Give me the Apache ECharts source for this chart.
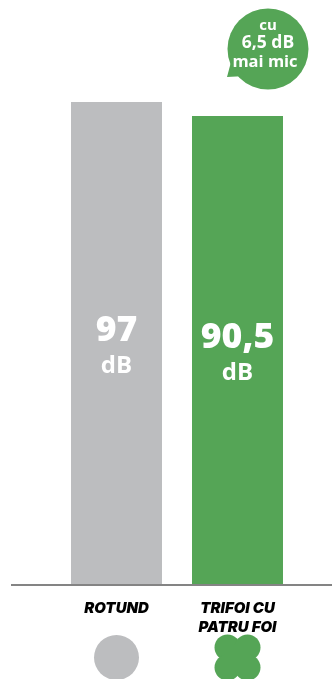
<!DOCTYPE html>
<html><head><meta charset="utf-8">
<style>html,body{margin:0;padding:0;background:#fff}#c{width:332px;height:679px}</style>
<script src="https://cdn.jsdelivr.net/npm/echarts@6/dist/echarts.min.js"></script></head>
<body><div id="c"></div>
<script>
const categories = ['ROTUND', 'TRIFOI CU\nPATRU FOI'];
const values = [97, 90.5];
const valueLabels = ['97', '90,5'];
const unit = 'dB';
const barColors = ['#bcbdbf', '#55a556'];
const bubbleLines = ['cu', '6,5 dB', 'mai mic'];
const axisMin = -127.2;
const chart = echarts.init(document.getElementById('c'), null, {renderer:'canvas'});
const F = 'Inter, "Open Sans", sans-serif';
const O = '"Open Sans", sans-serif';
const g = barColors[1], gr = barColors[0];
const clover = [[-10,-10],[10,-10],[-10,10],[10,10]].map(([dx,dy]) => ({
  type:'circle', shape:{cx:237.5+dx, cy:657.5+dy, r:13}, style:{fill:g}, silent:true, z:5
}));
chart.setOption({
  animation:false,
  grid:{left:56, width:242, top:102, height:483},
  xAxis:{type:'category', data:categories, axisTick:{show:false},
    axisLine:{show:false},
    axisLabel:{color:'#000', fontFamily:F, fontSize:15, fontWeight:900, fontStyle:'italic', lineHeight:19, margin:14, interval:0}},
  yAxis:{type:'value', min:axisMin, max:97, show:false},
  series:[{type:'custom',
    encode:{x:0,y:1},
    data:values.map((v,i)=>[i,v]),
    renderItem:(params,api)=>{
      const i = api.value(0), top = api.coord([i, api.value(1)]), base = api.coord([i, axisMin]);
      const w = api.size([1,0])[0]*0.752;
      return {type:'rect',
        shape:{x:top[0]-w/2, y:top[1], width:w, height:base[1]-top[1]},
        style:{fill:barColors[i]},
        textContent:{style:{text:'{a|'+valueLabels[i]+'}\n{b|'+unit+'}', align:'center', verticalAlign:'middle', rich:{
          a:{fontFamily:O,fontSize:35.5,fontWeight:800,fill:'#fff',lineHeight:40,align:'center'},
          b:{fontFamily:O,fontSize:24,fontWeight:700,fill:'#fff',lineHeight:32,align:'center'}}}},
        textConfig:{position:'inside', offset:[0,3]}};
    }}],
  graphic:[
    {type:'line', shape:{x1:11,y1:585,x2:332,y2:585}, style:{stroke:'#848484',lineWidth:2}, silent:true, z:10},
    {type:'circle', shape:{cx:116.5,cy:657.5,r:22.5}, style:{fill:gr}, silent:true, z:5},
    ...clover,
    {type:'rect', shape:{x:225,y:645,width:25,height:25}, style:{fill:g}, silent:true, z:5},
    {type:'circle', shape:{cx:268,cy:49,r:40.5}, style:{fill:g}, silent:true, z:5},
    {type:'polygon', shape:{points:[[231,62],[227,77],[246,76]]}, style:{fill:g}, silent:true, z:5},
    {type:'text', x:268, y:26, style:{text:bubbleLines[0], fill:'#fff', font:'700 15px '+O, textAlign:'center', textVerticalAlign:'middle'}, silent:true, z:6},
    {type:'text', x:268, y:43, style:{text:bubbleLines[1], fill:'#fff', font:'700 17.5px '+O, textAlign:'center', textVerticalAlign:'middle'}, silent:true, z:6},
    {type:'text', x:265,y:62, style:{text:bubbleLines[2], fill:'#fff', font:'700 16.5px '+O, textAlign:'center', textVerticalAlign:'middle'}, silent:true, z:6}
  ]
});
</script></body></html>
